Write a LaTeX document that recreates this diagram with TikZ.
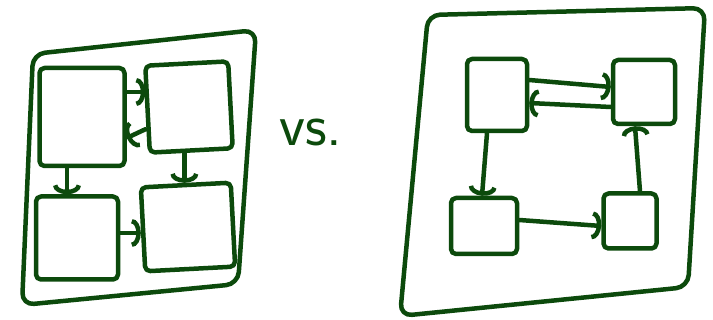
\documentclass[tikz,border=0pt]{standalone}
\usetikzlibrary{arrows.meta,calc}
\definecolor{ink}{RGB}{12,74,12}
\begin{document}
\begin{tikzpicture}[x=1pt,y=-1pt,
  inkline/.style={draw=ink, line width=4.5pt, line cap=round, line join=round},
  sbox/.style={inkline, rectangle, rounded corners=5pt, inner sep=0pt},
  frame/.style={inkline, rounded corners=12pt},
  conn/.style={inkline, -{Arc Barb[length=9pt,width=28pt]}}]
\useasboundingbox (0,0) rectangle (713,320);

% left panel
\draw[frame] (33,54) -- (256,30) -- (238,284) -- (22,305) -- cycle;
\node[sbox, minimum width=85pt, minimum height=98pt] (ltl) at (82,117) {};
\node[sbox, minimum width=83pt, minimum height=87pt, rotate=3] (ltr) at (189,107) {};
\node[sbox, minimum width=82pt, minimum height=83pt] (lbl) at (77,238) {};
\node[sbox, minimum width=90pt, minimum height=84pt, rotate=3] (lbr) at (188,227) {};

\coordinate (a1) at ([yshift=25pt]ltl.east);
\draw[conn] (a1) -- (a1 -| ltr.west);
\draw[conn] ([yshift=-20pt]ltr.west) -- ([yshift=-21pt]ltl.east);
\coordinate (a3) at ([xshift=-15pt]ltl.south);
\draw[conn] (a3) -- (a3 |- lbl.north);
\coordinate (a4) at ([xshift=-7pt]ltr.south);
\draw[conn] (a4) -- (a4 |- lbr.north);
\coordinate (a5) at ([yshift=5pt]lbl.east);
\draw[conn] (a5) -- (a5 -| lbr.west);

% vs.
\node[text=ink, font=\sffamily\fontsize{60}{60}\selectfont, anchor=base west, inner sep=0pt] (vs) at (279,146) {vs.};

% right panel
\draw[frame] (428,15) -- (705,8) -- (688,287) -- (400,316) -- cycle;
\node[sbox, minimum width=60pt, minimum height=72pt] (rtl) at (497,95) {};
\node[sbox, minimum width=62pt, minimum height=64pt] (rtr) at (644,92) {};
\node[sbox, minimum width=66pt, minimum height=56pt] (rbl) at (484,226) {};
\node[sbox, minimum width=53pt, minimum height=55pt] (rbr) at (630,221) {};

\draw[conn] ([yshift=15pt]rtl.east) -- ([yshift=5pt]rtr.west);
\draw[conn] ([yshift=-15pt]rtr.west) -- ([yshift=-8pt]rtl.east);
\draw[conn] ([xshift=-10pt]rtl.south) -- ([xshift=-2pt]rbl.north);
\draw[conn] ([yshift=6pt]rbl.east) -- ([yshift=-5pt]rbr.west);
\draw[conn] ([xshift=10pt]rbr.north) -- ([xshift=-9pt]rtr.south);
\end{tikzpicture}
\end{document}
